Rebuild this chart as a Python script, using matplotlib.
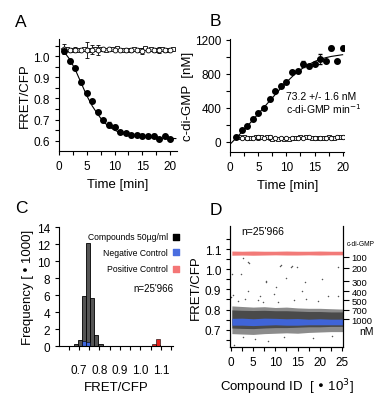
import matplotlib
matplotlib.use("Agg")
import matplotlib.pyplot as plt

plt.rcParams['font.family'] = ['Liberation Sans', 'DejaVu Sans']
plt.rcParams['axes.linewidth'] = 0.8
plt.rcParams['xtick.direction'] = 'out'
plt.rcParams['ytick.direction'] = 'out'

# ---- panel A: FRET/CFP vs time
A_TIME = [1, 2, 3, 4, 5, 6, 7, 8, 9, 10, 11, 12, 13, 14, 15, 16, 17, 18, 19, 20]
A_FRET = [1.025, 0.979, 0.945, 0.877, 0.825, 0.790, 0.737, 0.697, 0.675, 0.667,
          0.640, 0.635, 0.625, 0.628, 0.624, 0.620, 0.624, 0.608, 0.620, 0.608]
A_FRET_ERR = [0.01, 0.008, 0.006, 0.008, 0.005, 0.005, 0.006, 0.008, 0.012, 0.006,
              0.005, 0.004, 0.008, 0.004, 0.006, 0.008, 0.006, 0.004, 0.005, 0.004]
A_FIT_T = [0.5, 1, 2, 3, 4, 5, 6, 7, 8, 9, 10, 11, 12, 14, 16, 18, 21]
A_FIT_Y = [1.035, 1.020, 0.985, 0.935, 0.875, 0.815, 0.765, 0.725, 0.690, 0.667,
           0.650, 0.638, 0.630, 0.620, 0.615, 0.612, 0.610]
A_CTRL_T = [1, 2, 3, 4, 5, 6, 7, 8, 9, 10, 11, 12, 13, 14, 15, 16, 17, 18, 19, 20]
A_CTRL = [1.035, 1.028, 1.030, 1.030, 1.030, 1.032, 1.030, 1.033, 1.035, 1.030,
          1.028, 1.030, 1.028, 1.030, 1.025, 1.030, 1.028, 1.030, 1.028, 1.030]
A_CTRL_ERR = [0.025, 0.010, 0.012, 0.0, 0.040, 0.020, 0.025, 0.0, 0.0, 0.0,
              0.0, 0.0, 0.010, 0.0, 0.015, 0.0, 0.010, 0.015, 0.010, 0.0]
A_CTRL2_T = [1.5, 2.5, 3.5, 4.5, 5.5, 6.5, 7.5, 8.5, 9.5, 10.5, 11.5, 12.5, 13.5,
             14.5, 15.5, 16.5, 17.5, 18.5, 19.5, 20.5]
A_CTRL2 = [1.033, 1.030, 1.032, 1.034, 1.030, 1.036, 1.033, 1.032, 1.036, 1.040,
           1.032, 1.030, 1.034, 1.030, 1.038, 1.033, 1.030, 1.034, 1.032, 1.034]

# ---- panel B: c-di-GMP vs time
B_TIME = [1, 2, 3, 4, 5, 6, 7, 8, 9, 10, 11, 12, 13, 14, 15, 16, 17, 18, 19, 20]
B_CDG = [50, 136, 179, 265, 335, 393, 499, 596, 662, 705,
         818, 838, 915, 888, 915, 974, 947, 1102, 947, 1102]
B_CDG_ERR = [8, 8, 8, 8, 8, 8, 8, 10, 15, 10, 8, 10, 40, 15, 10, 60, 10, 25, 8, 25]
B_FIT_T = [0, 1, 2, 3, 4, 5, 6, 7, 8, 9, 10, 11, 12, 13, 14, 15, 16, 17, 18, 19, 20]
B_FIT_Y = [-27, 40, 110, 180, 255, 330, 405, 480, 555, 630, 700, 765, 825, 870,
           910, 945, 970, 990, 1005, 1015, 1025]
B_CTRL_T = [1, 2, 3, 4, 5, 6, 7, 8, 9, 10, 11, 12, 13, 14, 15, 16, 17, 18, 19, 20]
B_CTRL = [55, 45, 40, 48, 52, 45, 50, 40, 40, 42, 45, 45, 48, 50, 48, 45, 45, 48, 50, 55]
B_CTRL_ERR = [15, 0, 20, 0, 30, 0, 25, 0, 0, 0, 0, 0, 0, 0, 20, 0, 0, 0, 0, 0]
B_CTRL2_T = [1.5, 2.5, 3.5, 4.5, 5.5, 6.5, 7.5, 8.5, 9.5, 10.5, 11.5, 12.5, 13.5,
             14.5, 15.5, 16.5, 17.5, 18.5, 19.5]
B_CTRL2 = [60, 50, 45, 55, 60, 50, 30, 30, 30, 35, 40, 50, 55, 45, 40, 45, 50, 48, 52]

# ---- panel C: histogram
C_BINS = [0.645, 0.665, 0.685, 0.705, 0.725, 0.745, 0.765, 0.785, 0.805, 0.825,
          0.845, 0.865, 0.885, 0.905, 0.925, 0.945, 0.965, 0.985, 1.005, 1.025,
          1.045, 1.065, 1.085, 1.105, 1.125]
C_COMPOUNDS = [0.03, 0.06, 0.27, 0.70, 5.95, 12.15, 5.68, 1.30, 0.30, 0.08,
               0.05, 0.04, 0.04, 0.04, 0.03, 0.03, 0.03, 0.03, 0.03, 0.03,
               0.04, 0.08, 0.10, 0.05, 0.03]
C_NEG_BINS = [0.725, 0.745]
C_NEG = [0.62, 0.55]
C_POS_BINS = [1.065, 1.085]
C_POS = [0.30, 0.90]
C_TICKS = [0.7, 0.8, 0.9, 1.0, 1.1]
C_TICK_LABELS = ['0.7', '0.8', '0.9', '1.0', '1.1']

# ---- panel D: screen overview (dense bands + visible outliers)
D_BAND_X = [0.2, 2.5, 5, 7.5, 10, 12.5, 15, 17.5, 20, 22.5, 25.3]
D_GRAY_LO = [0.680, 0.678, 0.676, 0.680, 0.682, 0.684, 0.682, 0.686, 0.688, 0.690, 0.690]
D_GRAY_HI = [0.818, 0.815, 0.812, 0.814, 0.810, 0.812, 0.808, 0.806, 0.806, 0.804, 0.802]
D_CORE_LO = [0.708, 0.706, 0.705, 0.708, 0.710, 0.710, 0.712, 0.714, 0.714, 0.716, 0.716]
D_CORE_HI = [0.798, 0.796, 0.795, 0.796, 0.794, 0.794, 0.792, 0.790, 0.790, 0.788, 0.788]
D_BLUE_LO = [0.722, 0.722, 0.720, 0.722, 0.724, 0.722, 0.722, 0.724, 0.724, 0.724, 0.724]
D_BLUE_HI = [0.756, 0.757, 0.754, 0.757, 0.756, 0.754, 0.755, 0.752, 0.754, 0.752, 0.752]
D_RED_LO = [1.070, 1.071, 1.070, 1.071, 1.072, 1.071, 1.071, 1.072, 1.071, 1.072, 1.072]
D_RED_HI = [1.091, 1.090, 1.091, 1.090, 1.090, 1.091, 1.090, 1.090, 1.091, 1.090, 1.090]
D_OUT_X = [0.15, 0.5, 0.0, 2.25, 2.6, 3.2, 3.75, 3.9, 4.05, 6.5, 8.0, 8.0, 9.75, 10.1,
           10.65, 11.0, 11.3, 12.5, 13.5, 13.7, 14.8, 15.9, 16.7, 20.4, 21.9, 24.0,
           24.2, 2.6, 0.75, 8.4, 5.5, 12.0, 18.5, 22.8, 1.5, 6.0, 17.0, 19.5, 7.2, 14.2]
D_OUT_Y = [0.977, 0.874, 0.861, 0.977, 1.055, 0.850, 1.035, 0.894, 1.030, 0.869,
           0.944, 0.936, 0.878, 0.914, 0.836, 1.018, 1.022, 0.957, 1.010, 1.018,
           1.013, 0.894, 0.936, 0.952, 0.869, 1.010, 0.869, 0.662, 0.625, 0.645,
           0.655, 0.665, 0.660, 0.668, 0.840, 0.845, 0.850, 0.842, 0.838, 0.848]
D_CDG_POS = [1.063, 1.007, 0.941, 0.892, 0.846, 0.798, 0.752]
D_CDG_LABELS = ['100', '200', '300', '400', '500', '700', '1000']

W, H = 392, 402
fig = plt.figure(figsize=(W / 100, H / 100), dpi=100)


def box(left, right, top, bottom):
    return [left / W, 1 - bottom / H, (right - left) / W, (bottom - top) / H]


def style(ax, right=False):
    ax.spines['top'].set_visible(False)
    if not right:
        ax.spines['right'].set_visible(False)
    ax.tick_params(labelsize=8.5, length=3, width=0.8, which='both')


# A
axA = fig.add_axes(box(58.7, 177, 40, 152))
style(axA)
axA.plot(A_FIT_T, A_FIT_Y, color='black', lw=0.8)
axA.errorbar(A_CTRL_T, A_CTRL, yerr=A_CTRL_ERR, fmt='o', mfc='white', mec='black',
             ecolor='black', ms=3.5, mew=0.6, elinewidth=0.6, capsize=1.5)
axA.plot(A_CTRL2_T, A_CTRL2, 's', mfc='white', mec='black', ms=3.2, mew=0.6)
axA.errorbar(A_TIME, A_FRET, yerr=A_FRET_ERR, fmt='o', color='black', ms=4,
             elinewidth=0.6, capsize=1.5)
axA.set_xlim(0, 21.2)
axA.set_ylim(0.551, 1.082)
axA.set_xticks([0, 5, 10, 15, 20])
axA.set_xticks([2.5, 7.5, 12.5, 17.5], minor=True)
axA.set_yticks([0.6, 0.7, 0.8, 0.9, 1.0])
axA.set_yticks([0.65, 0.75, 0.85, 0.95, 1.05], minor=True)
axA.set_yticklabels(['0.6', '0.7', '0.8', '0.9', '1.0'])
axA.set_xlabel('Time [min]', fontsize=9.5, labelpad=4)
axA.set_ylabel('FRET/CFP', fontsize=9.5, labelpad=2)

# B
axB = fig.add_axes(box(230.3, 344.3, 40, 153.3))
style(axB)
axB.plot(B_FIT_T, B_FIT_Y, color='black', lw=0.8)
axB.errorbar(B_CTRL_T, B_CTRL, yerr=B_CTRL_ERR, fmt='o', mfc='white', mec='black',
             ecolor='black', ms=3.2, mew=0.6, elinewidth=0.6, capsize=1.5)
axB.plot(B_CTRL2_T, B_CTRL2, 's', mfc='white', mec='black', ms=3, mew=0.6)
axB.errorbar(B_TIME, B_CDG, yerr=B_CDG_ERR, fmt='o', color='black', ms=4,
             elinewidth=0.6, capsize=1.5)
axB.set_xlim(0, 20.3)
axB.set_ylim(-125, 1210)
axB.set_xticks([0, 5, 10, 15, 20])
axB.set_xticks([2.5, 7.5, 12.5, 17.5], minor=True)
axB.set_yticks([0, 400, 800, 1200])
axB.set_yticks([200, 600, 1000], minor=True)
axB.set_xlabel('Time [min]', fontsize=9.5, labelpad=4)
axB.set_ylabel('c-di-GMP  [nM]', fontsize=9.5, labelpad=1)
axB.text(9.9, 455, '73.2 +/- 1.6 nM\nc-di-GMP min$^{-1}$', fontsize=7.5,
         va='center', ha='left', linespacing=1.05)

# C
axC = fig.add_axes(box(59.3, 173.3, 228.3, 347.3))
style(axC)
axC.bar(C_BINS, C_COMPOUNDS, width=0.02, color='#555555', edgecolor='black', lw=0.6)
axC.bar(C_NEG_BINS, C_NEG, width=0.02, color='#3d66dd', edgecolor='black', lw=0.4)
axC.bar(C_POS_BINS, C_POS, width=0.02, color='#e8231f', edgecolor='black', lw=0.4)
axC.set_xlim(0.604, 1.16)
axC.set_ylim(0, 14)
axC.set_xticks(C_TICKS)
axC.set_xticklabels(C_TICK_LABELS)
axC.set_xticks([0.65, 0.75, 0.85, 0.95, 1.05, 1.15], minor=True)
axC.set_yticks([0, 2, 4, 6, 8, 10, 12, 14])
axC.tick_params(axis='x', which='both', pad=10)
axC.set_xlabel('FRET/CFP', fontsize=9.5, labelpad=3)
axC.set_ylabel('Frequency [ \u2022 1000]', fontsize=9.5, labelpad=2)
legend_items = [('Compounds 50\u00b5g/ml', 'black', 0.921),
                ('Negative Control', '#4a6ee0', 0.790),
                ('Positive Control', '#f47676', 0.650)]
for label, col, yy in legend_items:
    axC.text(0.955, yy, label, transform=axC.transAxes, fontsize=6.2,
             ha='right', va='center')
    axC.scatter([1.02], [yy], marker='s', s=16, color=col, transform=axC.transAxes,
                clip_on=False)
axC.text(1.0, 0.487, "n=25'966", transform=axC.transAxes, fontsize=7,
         ha='right', va='center')

# D
axD = fig.add_axes(box(230.3, 343.3, 226.7, 348.3))
style(axD, right=True)
axD.fill_between(D_BAND_X, D_GRAY_LO, D_GRAY_HI, color='#8c8c8c', lw=0)
axD.fill_between(D_BAND_X, D_CORE_LO, D_CORE_HI, color='#4a4a4a', lw=0)
axD.fill_between(D_BAND_X, D_BLUE_LO, D_BLUE_HI, color='#3f64d8', lw=0)
axD.fill_between(D_BAND_X, D_RED_LO, D_RED_HI, color='#f27a78', lw=0)
axD.scatter(D_OUT_X, D_OUT_Y, s=1.2, color='#555555', lw=0)
axD.set_xlim(-0.15, 25.3)
axD.set_ylim(0.612, 1.217)
axD.set_xticks([0, 5, 10, 15, 20, 25])
axD.set_xticks([2.5, 7.5, 12.5, 17.5, 22.5], minor=True)
axD.set_yticks([0.7, 0.8, 0.9, 1.0, 1.1])
axD.set_yticks([0.65, 0.75, 0.85, 0.95, 1.05, 1.15], minor=True)
axD.set_xlabel('Compound ID  [ \u2022 10$^3$]', fontsize=9.5, labelpad=6)
axD.set_ylabel('FRET/CFP', fontsize=9.5, labelpad=2)
axD.text(2.25, 1.193, "n=25'966", fontsize=7.5, ha='left', va='center')
axD2 = axD.twinx()
axD2.set_ylim(axD.get_ylim())
axD2.spines['top'].set_visible(False)
axD2.set_yticks(D_CDG_POS)
axD2.set_yticklabels(D_CDG_LABELS)
axD2.tick_params(labelsize=6.8, length=4, width=0.8, pad=2)
axD.text(1.03, 0.85, 'c-di-GMP', transform=axD.transAxes, fontsize=4.8,
         ha='left', va='center')
axD.text(1.14, 0.135, 'nM', transform=axD.transAxes, fontsize=7.5, ha='left', va='center')

# panel letters
for letter, x, y in [('A', 15, 27), ('B', 210, 26), ('C', 15, 213), ('D', 210, 215)]:
    fig.text(x / W, 1 - y / H, letter, fontsize=12.5, ha='left', va='baseline')

fig.savefig('out.png', dpi=100)
